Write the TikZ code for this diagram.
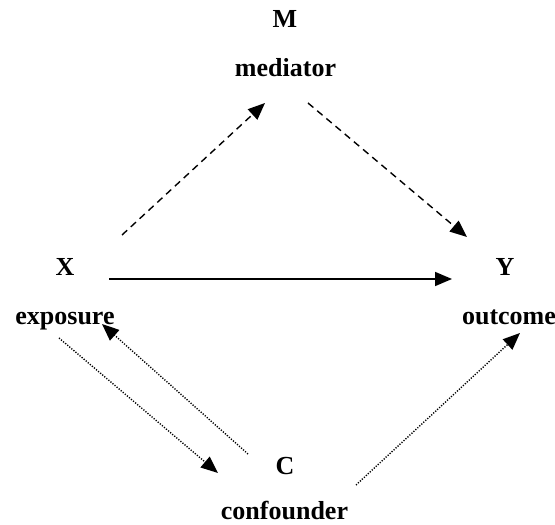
\documentclass[tikz,border=0pt]{standalone}
\usepackage{fontspec}
\setmainfont{Liberation Serif}
\usetikzlibrary{arrows.meta,positioning,calc}

\begin{document}
\begin{tikzpicture}[x=1pt,y=1pt,
	var/.style={inner sep=0pt, anchor=base, font=\bfseries\fontsize{26}{30}\selectfont},
	direct/.style={-{Triangle[length=17pt,width=14pt]}, line width=1.6pt},
	mediated/.style={-{Triangle[length=17pt,width=14pt]}, line width=1.4pt, dash pattern=on 7pt off 5pt},
	confounding/.style={-{Triangle[length=17pt,width=14pt]}, line width=1.4pt, dash pattern=on 1.2pt off 1.5pt}]
	\useasboundingbox (0,0) rectangle (555,525);
	
	\node [var] (M) at (285,497) {M};
	\node [var] (med) at ([xshift=0.5pt,yshift=-49pt]M.base) {mediator};
	\node [var] (X) at (65,249) {X};
	\node [var] (exp) at ([yshift=-49pt]X.base) {exposure};
	\node [var] (Y) at (505,249) {Y};
	\node [var] (out) at ([xshift=4pt,yshift=-49pt]Y.base) {outcome};
	\node [var] (C) at (285,50) {C};
	\node [var] (conf) at ([xshift=-0.5pt,yshift=-45pt]C.base) {confounder};
	
	\draw [direct] ($(X.base)+(44,-3)$) -- ($(Y.base)+(-53,-3)$);
	\draw [mediated] ($(X.base)+(57,41)$) -- ($(med.base)+(-20.5,-26)$);
	\draw [mediated] ($(med.base)+(22.5,-26)$) -- ($(Y.base)+(-38,39)$);
	\draw [confounding] ($(exp.base)+(-6,-13)$) -- ($(C.base)+(-67,2)$);
	\draw [confounding] ($(C.base)+(-37,21)$) -- ($(exp.base)+(37,1)$);
	\draw [confounding] ($(C.base)+(71,-10)$) -- ($(out.base)+(11,-8)$);
	
	%\node [below=2pt of conf] {};
\end{tikzpicture}
\end{document}
